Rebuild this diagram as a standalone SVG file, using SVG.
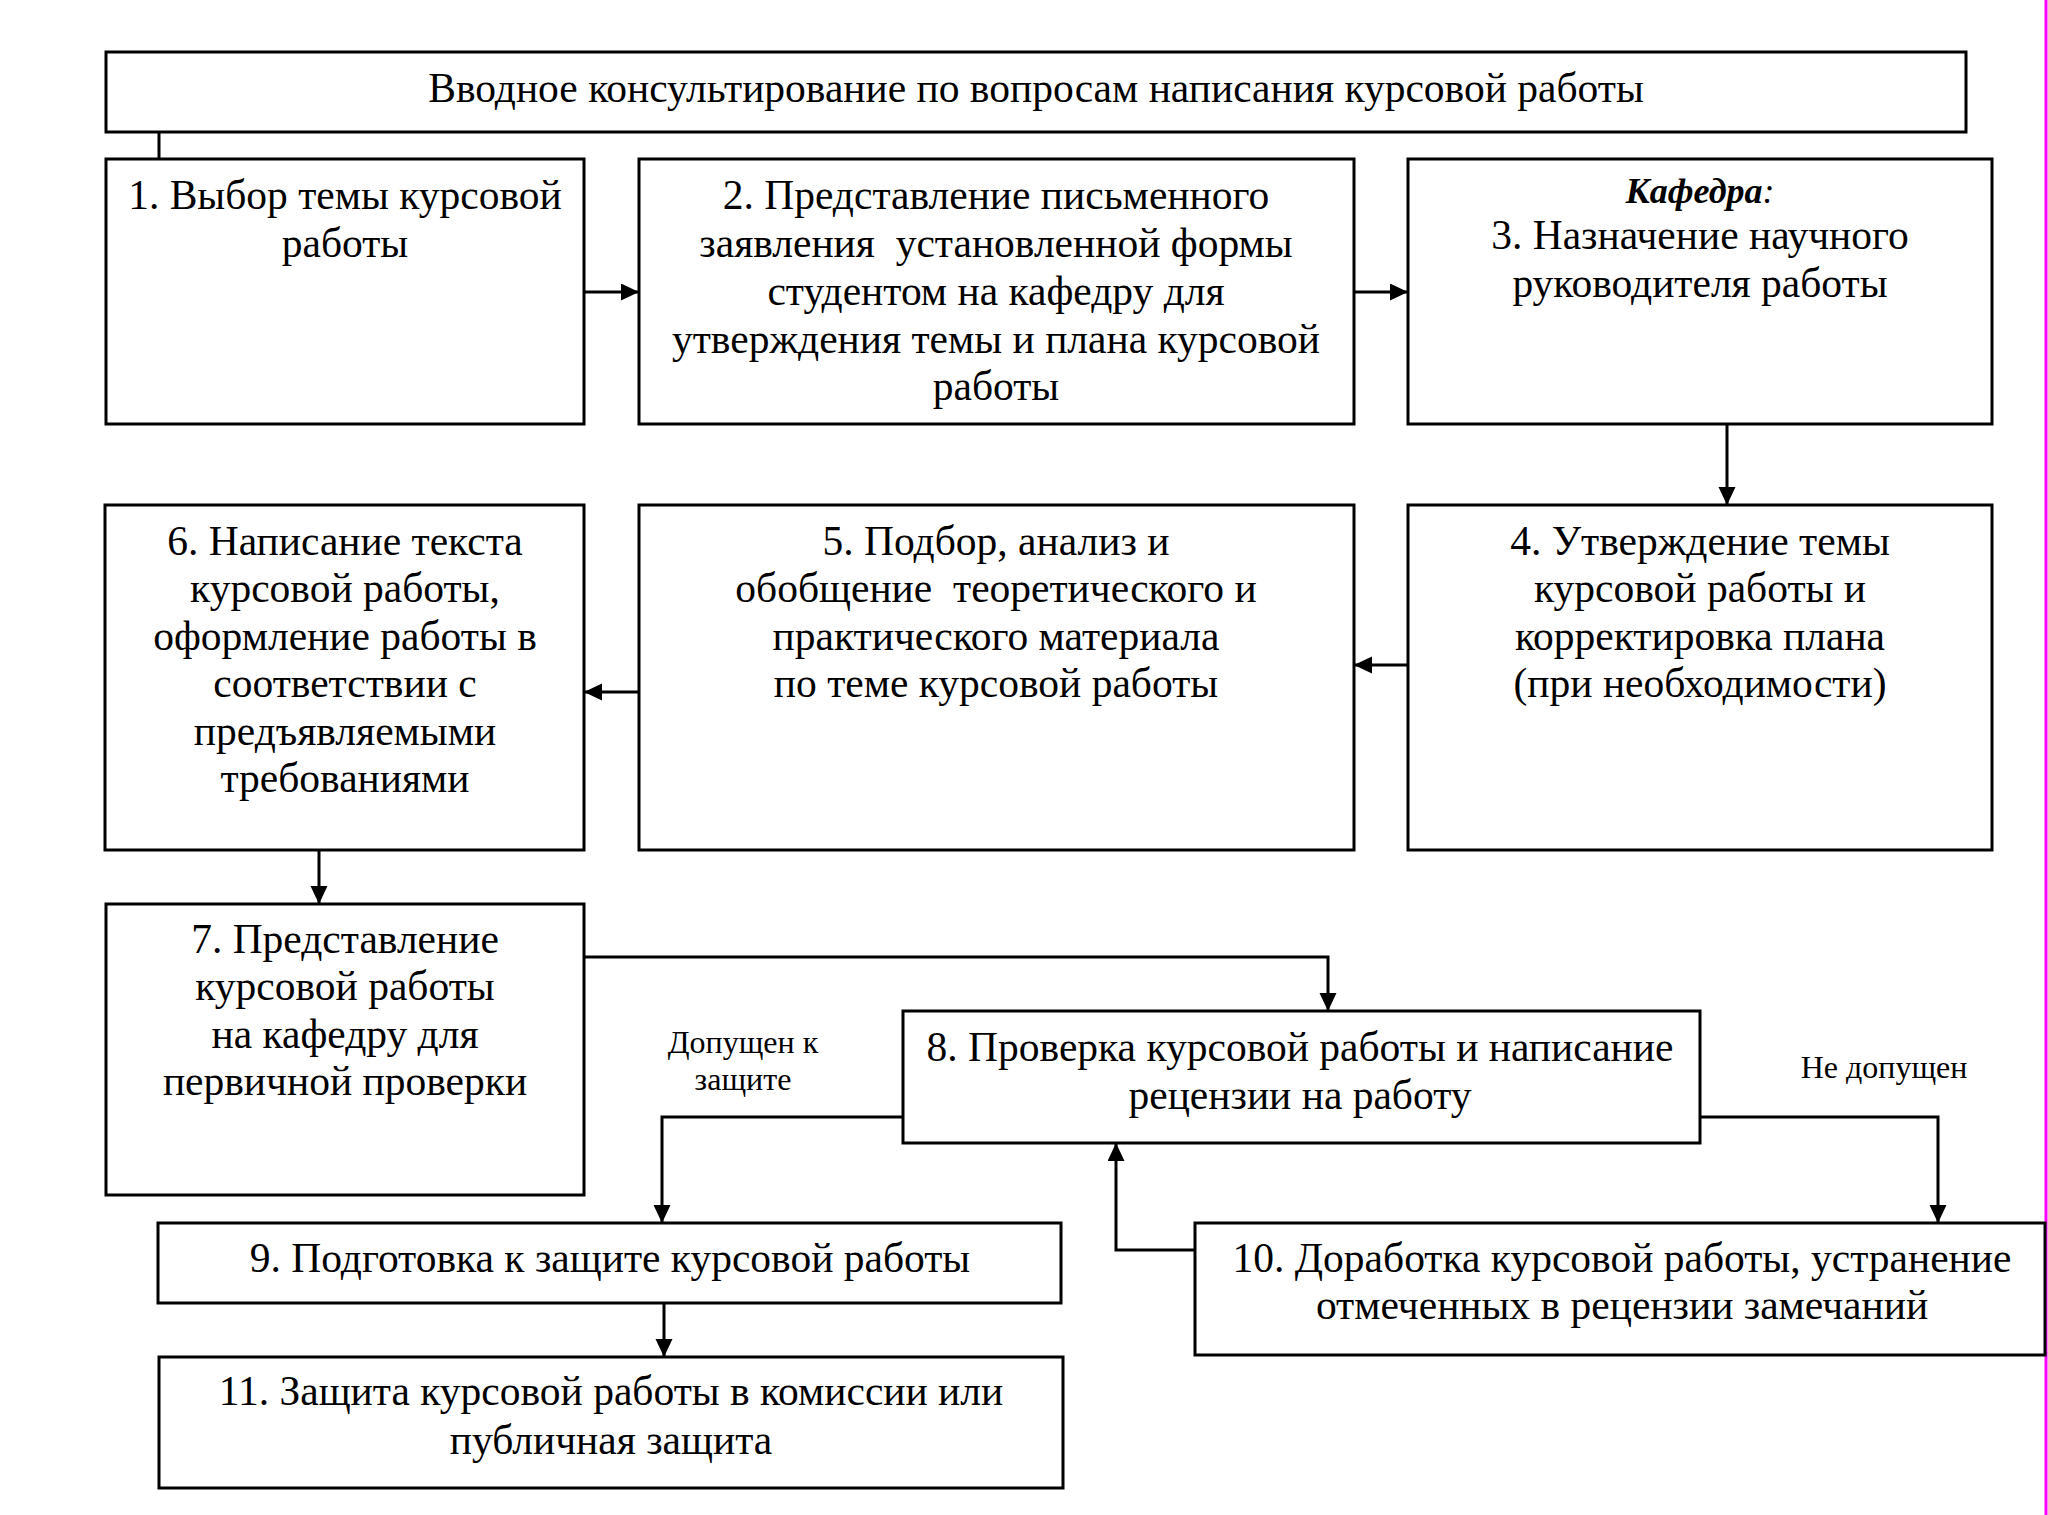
<svg xmlns="http://www.w3.org/2000/svg" width="2048" height="1515" viewBox="0 0 2048 1515">
<defs>
<style>
.box{fill:#fff;stroke:#000;stroke-width:3}
.t{font-family:"Liberation Serif","Times New Roman",serif;font-size:41.5px;fill:#000;text-anchor:middle}
.lbl{font-family:"Liberation Serif","Times New Roman",serif;font-size:32px;fill:#000;text-anchor:middle}
.bi{font-weight:bold;font-style:italic;font-size:36px}
.c{fill:none;stroke:#000;stroke-width:3}
</style>
<marker id="ah" markerUnits="userSpaceOnUse" markerWidth="19" markerHeight="18" refX="18" refY="8.5" orient="auto">
<path d="M0,0 L18,8.5 L0,17 z" fill="#000"/>
</marker>
</defs>
<rect x="0" y="0" width="2048" height="1515" fill="#fff"/>
<line x1="2046" y1="0" x2="2046" y2="1515" stroke="#ff00ff" stroke-width="3"/>

<g id="connectors">
<path class="c" d="M159,132 V159"/>
<path class="c" d="M584,292 H639" marker-end="url(#ah)"/>
<path class="c" d="M1354,292 H1408" marker-end="url(#ah)"/>
<path class="c" d="M1727,424 V505" marker-end="url(#ah)"/>
<path class="c" d="M1408,665 H1354" marker-end="url(#ah)"/>
<path class="c" d="M639,692 H584" marker-end="url(#ah)"/>
<path class="c" d="M319,850 V904" marker-end="url(#ah)"/>
<path class="c" d="M584,957 H1328 V1011" marker-end="url(#ah)"/>
<path class="c" d="M903,1117 H662 V1223" marker-end="url(#ah)"/>
<path class="c" d="M1700,1117 H1938 V1223" marker-end="url(#ah)"/>
<path class="c" d="M1195,1250 H1116 V1143" marker-end="url(#ah)"/>
<path class="c" d="M664,1303 V1357" marker-end="url(#ah)"/>
<text class="lbl" x="743" y="1053">Допущен к</text>
<text class="lbl" x="743" y="1090">защите</text>
<text class="lbl" x="1884" y="1078">Не допущен</text>
</g>

<g id="node-top">
<rect class="box" x="106" y="52" width="1860" height="80"/>
<text class="t" x="1036" y="102">Вводное консультирование по вопросам написания курсовой работы</text>
</g>

<g id="node-1">
<rect class="box" x="106" y="159" width="478" height="265"/>
<text class="t" x="345" y="209">1. Выбор темы курсовой</text>
<text class="t" x="345" y="257">работы</text>
</g>

<g id="node-2">
<rect class="box" x="639" y="159" width="715" height="265"/>
<text class="t" x="996" y="209">2. Представление письменного</text>
<text class="t" x="996" y="257" xml:space="preserve">заявления  установленной формы</text>
<text class="t" x="996" y="305">студентом на кафедру для</text>
<text class="t" x="996" y="353">утверждения темы и плана курсовой</text>
<text class="t" x="996" y="400">работы</text>
</g>

<g id="node-3">
<rect class="box" x="1408" y="159" width="584" height="265"/>
<text class="t bi" x="1700" y="203">Кафедра<tspan font-weight="normal">:</tspan></text>
<text class="t" x="1700" y="249">3. Назначение научного</text>
<text class="t" x="1700" y="297">руководителя работы</text>
</g>

<g id="node-4">
<rect class="box" x="1408" y="505" width="584" height="345"/>
<text class="t" x="1700" y="555">4. Утверждение темы</text>
<text class="t" x="1700" y="602">курсовой работы и</text>
<text class="t" x="1700" y="650">корректировка плана</text>
<text class="t" x="1700" y="697">(при необходимости)</text>
</g>

<g id="node-5">
<rect class="box" x="639" y="505" width="715" height="345"/>
<text class="t" x="996" y="555">5. Подбор, анализ и</text>
<text class="t" x="996" y="602" xml:space="preserve">обобщение  теоретического и</text>
<text class="t" x="996" y="650">практического материала</text>
<text class="t" x="996" y="697">по теме курсовой работы</text>
</g>

<g id="node-6">
<rect class="box" x="105" y="505" width="479" height="345"/>
<text class="t" x="345" y="555">6. Написание текста</text>
<text class="t" x="345" y="602">курсовой работы,</text>
<text class="t" x="345" y="650">оформление работы в</text>
<text class="t" x="345" y="697">соответствии с</text>
<text class="t" x="345" y="745">предъявляемыми</text>
<text class="t" x="345" y="792">требованиями</text>
</g>

<g id="node-7">
<rect class="box" x="106" y="904" width="478" height="291"/>
<text class="t" x="345" y="953">7. Представление</text>
<text class="t" x="345" y="1000">курсовой работы</text>
<text class="t" x="345" y="1048">на кафедру для</text>
<text class="t" x="345" y="1095">первичной проверки</text>
</g>

<g id="node-8">
<rect class="box" x="903" y="1011" width="797" height="132"/>
<text class="t" x="1300" y="1061">8. Проверка курсовой работы и написание</text>
<text class="t" x="1300" y="1109">рецензии на работу</text>
</g>

<g id="node-9">
<rect class="box" x="158" y="1223" width="903" height="80"/>
<text class="t" x="610" y="1272">9. Подготовка к защите курсовой работы</text>
</g>

<g id="node-10">
<rect class="box" x="1195" y="1223" width="850" height="132"/>
<text class="t" x="1622" y="1272">10. Доработка курсовой работы, устранение</text>
<text class="t" x="1622" y="1319">отмеченных в рецензии замечаний</text>
</g>

<g id="node-11">
<rect class="box" x="159" y="1357" width="904" height="131"/>
<text class="t" x="611" y="1405">11. Защита курсовой работы в комиссии или</text>
<text class="t" x="611" y="1454">публичная защита</text>
</g>
</svg>
